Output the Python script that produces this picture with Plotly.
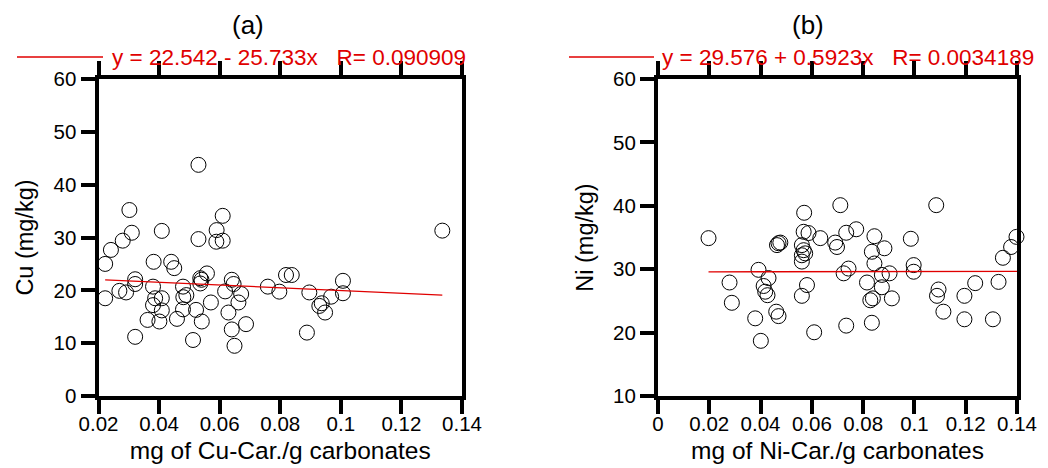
import plotly.graph_objects as go

# ---- data ----
cu_x = [0.053, 0.0302, 0.061, 0.031, 0.0409, 0.059, 0.028, 0.053, 0.0589, 0.061,
        0.0241, 0.0222, 0.0382, 0.044, 0.045, 0.0558, 0.0321, 0.0321, 0.0536, 0.054,
        0.0536, 0.064, 0.0646, 0.0479, 0.038, 0.0269, 0.0291, 0.0222, 0.0387, 0.0409,
        0.049, 0.048, 0.0618, 0.0671, 0.038, 0.0571, 0.0662, 0.0409, 0.0479, 0.0522,
        0.0629, 0.0362, 0.0401, 0.0459, 0.0541, 0.0687, 0.064, 0.0321, 0.0512, 0.0649,
        0.0759, 0.0797, 0.0819, 0.0838, 0.0896, 0.1007, 0.1007, 0.0968, 0.0937, 0.0929,
        0.0948, 0.0888, 0.1335]
cu_y = [43.75, 35.2, 34.1, 30.9, 31.25, 31.4, 29.4, 29.7, 29.2, 29.4,
        27.65, 25.0, 25.4, 25.4, 24.2, 23.2, 22.1, 21.2, 22.3, 22.0,
        21.3, 22.0, 21.2, 20.7, 20.7, 19.9, 19.6, 18.5, 18.5, 18.5,
        19.1, 18.7, 19.8, 19.3, 17.2, 17.7, 17.7, 16.2, 16.4, 16.3,
        15.8, 14.4, 14.1, 14.6, 14.1, 13.6, 12.6, 11.2, 10.6, 9.5,
        20.7, 19.75, 22.9, 22.9, 19.6, 21.8, 19.45, 18.8, 17.55, 17.05,
        15.8, 12.0, 31.3]

ni_x = [0.0197, 0.057, 0.0711, 0.047, 0.0464, 0.0477, 0.0568, 0.0587, 0.0633, 0.0691,
        0.0698, 0.0561, 0.0568, 0.0574, 0.0561, 0.0561, 0.0392, 0.0431, 0.0279, 0.0412,
        0.0418, 0.0427, 0.0581, 0.0561, 0.0288, 0.0461, 0.047, 0.0379, 0.0609, 0.0401,
        0.1085, 0.0734, 0.0773, 0.0844, 0.0834, 0.0883, 0.0844, 0.0986, 0.0997, 0.0997,
        0.0724, 0.0743, 0.0873, 0.0903, 0.0815, 0.0873, 0.0828, 0.0838, 0.0912, 0.0734,
        0.0834, 0.1094, 0.1088, 0.1195, 0.1237, 0.1328, 0.1113, 0.1195, 0.1306, 0.1345,
        0.1377, 0.1398]
ni_y = [34.9, 38.9, 40.1, 34.1, 33.8, 34.2, 35.9, 35.7, 34.9, 34.2,
        33.5, 33.8, 33.0, 32.5, 32.2, 31.2, 29.9, 28.6, 27.9, 27.35,
        26.45, 25.9, 27.5, 25.8, 24.7, 23.3, 22.6, 22.25, 20.05, 18.7,
        40.1, 35.75, 36.3, 35.2, 32.75, 33.3, 30.9, 34.8, 30.65, 29.6,
        29.35, 30.1, 29.1, 29.35, 27.9, 27.15, 25.1, 25.4, 25.4, 21.1,
        21.55, 26.8, 25.8, 25.8, 27.8, 28.0, 23.3, 22.1, 22.1, 31.8,
        33.5, 35.1]

cu_fit = (22.542, -25.733)   # intercept, slope
ni_fit = (29.576, 0.5923)

cu_label = "y = 22.542 - 25.733x   R= 0.090909"
ni_label = "y = 29.576 + 0.5923x   R= 0.0034189"

x_ticks_a = [0.02, 0.04, 0.06, 0.08, 0.1, 0.12, 0.14]
x_ticks_b = [0, 0.02, 0.04, 0.06, 0.08, 0.1, 0.12, 0.14]
y_ticks_a = [0, 10, 20, 30, 40, 50, 60]
y_ticks_b = [10, 20, 30, 40, 50, 60]

RED = "#e00000"
FONT = "Liberation Sans, Arial, sans-serif"
W, H = 1048, 468

fig = go.Figure()

marker = dict(symbol="circle-open", size=15, color="black", line=dict(width=1, color="black"))

fig.add_trace(go.Scatter(x=cu_x, y=cu_y, mode="markers", marker=marker,
                         xaxis="x", yaxis="y", showlegend=False, cliponaxis=False))
lx = [min(cu_x), max(cu_x)]
fig.add_trace(go.Scatter(x=lx, y=[cu_fit[0] + cu_fit[1] * v for v in lx], mode="lines",
                         line=dict(color=RED, width=1.3), xaxis="x", yaxis="y", showlegend=False))

fig.add_trace(go.Scatter(x=ni_x, y=ni_y, mode="markers", marker=marker,
                         xaxis="x2", yaxis="y2", showlegend=False, cliponaxis=False))
lx2 = [min(ni_x), 0.14]
fig.add_trace(go.Scatter(x=lx2, y=[ni_fit[0] + ni_fit[1] * v for v in lx2], mode="lines",
                         line=dict(color=RED, width=1.3), xaxis="x2", yaxis="y2", showlegend=False))

def xaxis(dom, rng, ticks, title):
    return dict(domain=dom, range=rng, tickvals=ticks, ticks="outside", ticklen=14,
                tickwidth=4, tickcolor="black", showline=True, linewidth=4, linecolor="black",
                mirror="ticks", showgrid=False, zeroline=False, automargin=False,
                ticklabelstandoff=-8,
                tickfont=dict(family=FONT, size=20.5, color="black"),
                title=dict(text=title, font=dict(family=FONT, size=24.5, color="black"), standoff=9))

def yaxis(dom, rng, ticks, title, anchor):
    return dict(domain=dom, range=rng, tickvals=ticks, ticks="outside", ticklen=14,
                tickwidth=4, tickcolor="black", showline=True, linewidth=4, linecolor="black",
                mirror=True, showgrid=False, zeroline=False, anchor=anchor, automargin=False,
                tickfont=dict(family=FONT, size=20.5, color="black"),
                title=dict(text=title, font=dict(family=FONT, size=23.5, color="black"), standoff=14))

ydom = [1 - 396 / H, 1 - 79 / H]
fig.update_layout(
    width=W, height=H, margin=dict(l=0, r=0, t=0, b=0),
    paper_bgcolor="white", plot_bgcolor="white",
    xaxis=xaxis([98.5 / W, 462 / W], [0.02, 0.14], x_ticks_a, "mg of Cu-Car./g carbonates") | dict(anchor="y"),
    yaxis=yaxis(ydom, [0, 60], y_ticks_a, "Cu (mg/kg)", "x"),
    xaxis2=xaxis([658 / W, 1017 / W], [0, 0.14], x_ticks_b, "mg of Ni-Car./g carbonates") | dict(anchor="y2"),
    yaxis2=yaxis(ydom, [10, 60], y_ticks_b, "Ni (mg/kg)", "x2"),
    shapes=[
        dict(type="line", xref="paper", yref="paper", x0=17 / W, x1=103 / W,
             y0=1 - 57 / H, y1=1 - 57 / H, line=dict(color=RED, width=1.5)),
        dict(type="line", xref="paper", yref="paper", x0=569 / W, x1=654 / W,
             y0=1 - 57 / H, y1=1 - 57 / H, line=dict(color=RED, width=1.5)),
    ],
    annotations=[
        dict(text="(a)", xref="paper", yref="paper", x=248 / W, y=1 - 25 / H,
             showarrow=False, xanchor="center", yanchor="middle",
             font=dict(family=FONT, size=26, color="black")),
        dict(text="(b)", xref="paper", yref="paper", x=808 / W, y=1 - 25 / H,
             showarrow=False, xanchor="center", yanchor="middle",
             font=dict(family=FONT, size=26, color="black")),
        dict(text=cu_label, xref="paper", yref="paper", x=110 / W, y=1 - 57 / H,
             showarrow=False, xanchor="left", yanchor="middle",
             font=dict(family=FONT, size=22.5, color=RED)),
        dict(text=ni_label, xref="paper", yref="paper", x=660 / W, y=1 - 57 / H,
             showarrow=False, xanchor="left", yanchor="middle",
             font=dict(family=FONT, size=22.5, color=RED)),
    ],
)

fig.write_html("out.html", config={"displayModeBar": False},
               post_script="document.body.style.margin='0';document.body.style.overflow='hidden';")
